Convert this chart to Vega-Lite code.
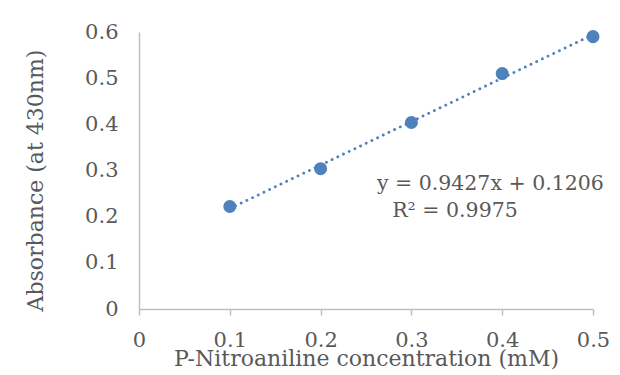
{
  "$schema": "https://vega.github.io/schema/vega-lite/v6.json",
  "width": 454,
  "height": 277,
  "autosize": {"type": "none"},
  "padding": {"left": 139, "top": 32, "right": 27, "bottom": 66},
  "background": "white",
  "config": {
    "view": {"stroke": null},
    "font": "DejaVu Serif",
    "axis": {
      "labelFont": "DejaVu Serif",
      "titleFont": "DejaVu Serif",
      "labelColor": "#595959",
      "titleColor": "#595959",
      "labelFontSize": 21,
      "titleFontSize": 22,
      "titleFontWeight": "normal",
      "domainColor": "#BFBFBF",
      "domainWidth": 1.5,
      "tickColor": "#BFBFBF",
      "tickWidth": 1.5,
      "grid": false
    }
  },
  "data": {
    "values": [
      {"conc": 0.1, "abs": 0.222},
      {"conc": 0.2, "abs": 0.304},
      {"conc": 0.3, "abs": 0.404},
      {"conc": 0.4, "abs": 0.510},
      {"conc": 0.5, "abs": 0.590}
    ]
  },
  "layer": [
    {
      "transform": [{"regression": "abs", "on": "conc", "extent": [0.1, 0.5]}],
      "mark": {"type": "line", "color": "#4F81BD", "strokeWidth": 2.8, "strokeDash": [0.1, 6.2], "strokeCap": "round"},
      "encoding": {
        "x": {"field": "conc", "type": "quantitative"},
        "y": {"field": "abs", "type": "quantitative"}
      }
    },
    {
      "mark": {"type": "circle", "color": "#4F81BD", "opacity": 1, "size": 170},
      "encoding": {
        "x": {
          "field": "conc",
          "type": "quantitative",
          "scale": {"domain": [0, 0.5], "nice": false},
          "axis": {
            "values": [0, 0.1, 0.2, 0.3, 0.4, 0.5],
            "format": ".1~f",
            "title": "P-Nitroaniline concentration (mM)",
            "tickSize": 6,
            "labelPadding": 14,
            "titlePadding": -2,
            "labelFlush": false
          }
        },
        "y": {
          "field": "abs",
          "type": "quantitative",
          "scale": {"domain": [0, 0.6], "nice": false},
          "axis": {
            "values": [0, 0.1, 0.2, 0.3, 0.4, 0.5, 0.6],
            "format": ".1~f",
            "title": "Absorbance (at 430nm)",
            "ticks": false,
            "labelPadding": 21,
            "titlePadding": 37,
            "titleY": 148
          }
        }
      }
    },
    {
      "data": {"values": [{"t": "y = 0.9427x + 0.1206"}]},
      "mark": {"type": "text", "fontSize": 20.5, "color": "#595959", "align": "center", "baseline": "middle"},
      "encoding": {
        "text": {"field": "t"},
        "x": {"datum": 0.387},
        "y": {"datum": 0.271}
      }
    },
    {
      "data": {"values": [{"t": "R² = 0.9975"}]},
      "mark": {"type": "text", "fontSize": 20.5, "color": "#595959", "align": "center", "baseline": "middle"},
      "encoding": {
        "text": {"field": "t"},
        "x": {"datum": 0.348},
        "y": {"datum": 0.212}
      }
    }
  ]
}
